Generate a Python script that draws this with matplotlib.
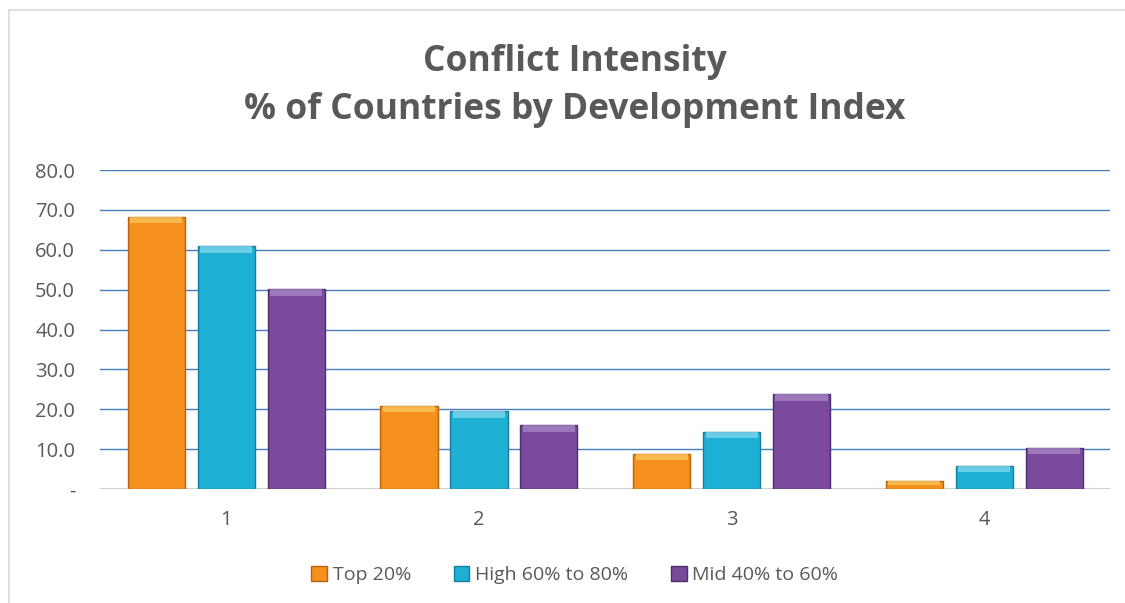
import numpy as np
import matplotlib.pyplot as plt
from matplotlib.patches import Rectangle
from matplotlib.lines import Line2D

# chart data
categories = ['1', '2', '3', '4']
series_names = ['Top 20%', 'High 60% to 80%', 'Mid 40% to 60%']
top20 = [68.2, 20.8, 8.8, 2.0]
high60_80 = [60.9, 19.5, 14.3, 5.8]
mid40_60 = [50.1, 16.0, 23.8, 10.3]
yticks = [0, 10, 20, 30, 40, 50, 60, 70, 80]

colors = ['#F5901C', '#1EB0D4', '#7A4A9C']
edges = ['#B8620C', '#137F9C', '#4F2C6C']
tops = ['#FCC45A', '#7FD6EC', '#A583C2']

plt.rcParams['font.family'] = ['Open Sans', 'DejaVu Sans']

fig = plt.figure(figsize=(11.25, 6.03), dpi=100)
ax = fig.add_axes([0.089, 0.189, 0.898, 0.529])

x = np.arange(len(categories))
width = 0.226
step = 0.277
for k, vals in enumerate([top20, high60_80, mid40_60]):
    pos = x + (k - 1) * step
    ax.bar(pos, vals, width, color=colors[k], edgecolor=edges[k], linewidth=1.0,
           zorder=3, label=series_names[k])
    # light bevel strip on top of each bar
    for p, v in zip(pos, vals):
        h = min(1.6, v * 0.45)
        ax.add_patch(Rectangle((p - width / 2 + 0.01, v - h), width - 0.02, h,
                               facecolor=tops[k], edgecolor='none', zorder=4, alpha=0.8))

ax.set_xlim(-0.5, 3.5)
ax.set_ylim(0, 80)
ax.set_yticks(yticks)
ax.set_yticklabels(['-' if t == 0 else '%.1f' % t for t in yticks])
ax.set_xticks(x)
ax.set_xticklabels(categories)
ax.tick_params(axis='both', length=0, labelsize=14.5, colors='#595959')
ax.tick_params(axis='y', pad=18)
ax.tick_params(axis='x', pad=15)
ax.yaxis.grid(True, color='#4A7EBB', linewidth=1.0, zorder=0)
ax.axhline(0, color='#D0D0D0', linewidth=1.5, zorder=2)
for s in ax.spines.values():
    s.set_visible(False)

fig.text(0.511, 0.897, 'Conflict Intensity', ha='center', va='center',
         fontsize=25.5, fontweight='bold', color='#595959')
fig.text(0.511, 0.817, '% of Countries by Development Index', ha='center', va='center',
         fontsize=25.5, fontweight='bold', color='#595959')

ax.legend(loc='center', ncol=3, frameon=False, fontsize=14, handlelength=0.8,
          handleheight=0.8, handletextpad=0.3, columnspacing=2.2, labelcolor='#595959')
leg = ax.get_legend()
leg.set_bbox_to_anchor((0.511, 0.046), transform=fig.transFigure)

# outer chart frame (left and top edges visible)
fig.add_artist(Line2D([0.008, 0.008], [0, 0.984], color='#D9D9D9', linewidth=1.2, transform=fig.transFigure))
fig.add_artist(Line2D([0.008, 1.0], [0.984, 0.984], color='#D9D9D9', linewidth=1.2, transform=fig.transFigure))

fig.savefig('out.png', dpi=100)
